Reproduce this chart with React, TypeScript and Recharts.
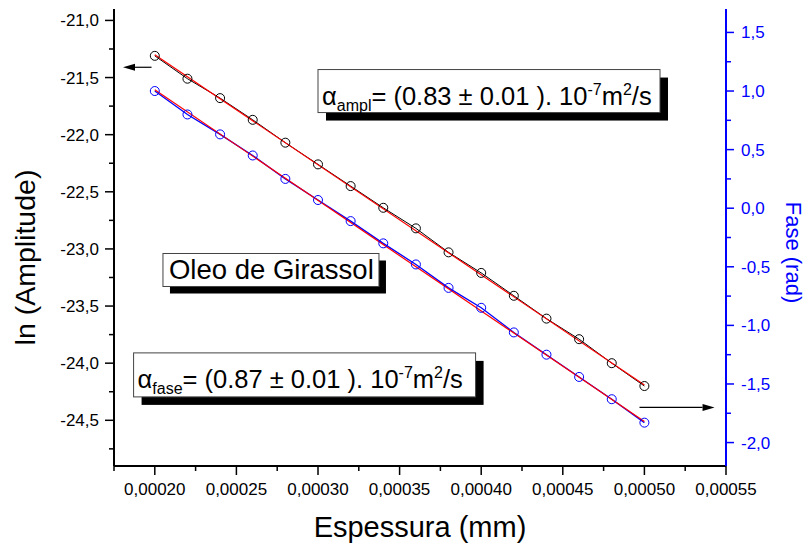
import React from 'react';
import { ComposedChart, Line, XAxis, YAxis, ReferenceDot, ReferenceLine } from 'recharts';

// ---- data ----
const thickness = [0.0002, 0.00022, 0.00024, 0.00026, 0.00028, 0.0003, 0.00032, 0.00034, 0.00036, 0.00038, 0.0004, 0.00042, 0.00044, 0.00046, 0.00048, 0.0005];
const lnAmplitude = [-21.31, -21.51, -21.68, -21.87, -22.07, -22.26, -22.45, -22.64, -22.82, -23.03, -23.21, -23.41, -23.61, -23.79, -24.0, -24.2];
const phaseRad = [1.0, 0.8, 0.63, 0.45, 0.25, 0.07, -0.11, -0.3, -0.48, -0.68, -0.85, -1.06, -1.25, -1.44, -1.63, -1.83];

const fitX = [0.0002, 0.0005];
const ampFitY = [-21.3, -24.19];
const phaseFitY = [1.01, -1.82];

const xMajorTicks = [0.0002, 0.00025, 0.0003, 0.00035, 0.0004, 0.00045, 0.0005, 0.00055];
const xMinorTicks = [0.000175, 0.000225, 0.000275, 0.000325, 0.000375, 0.000425, 0.000475, 0.000525];
const ampMajorTicks = [-21.0, -21.5, -22.0, -22.5, -23.0, -23.5, -24.0, -24.5];
const ampMinorTicks = [-21.25, -21.75, -22.25, -22.75, -23.25, -23.75, -24.25, -24.75];
const phaseMajorTicks = [1.5, 1.0, 0.5, 0.0, -0.5, -1.0, -1.5, -2.0];
const phaseMinorTicks = [1.25, 0.75, 0.25, -0.25, -0.75, -1.25, -1.75];

const xDomain = [0.000175, 0.00055];
const ampDomain = [-24.9, -20.9];
const phaseDomain = [-2.2, 1.7];

const xTitle = 'Espessura (mm)';
const ampTitle = 'ln (Amplitude)';
const phaseTitle = 'Fase (rad)';
const sampleName = 'Oleo de Girassol';
const amplText = { sym: 'α', sub: 'ampl', main: '= (0.83 ± 0.01 ). 10', exp: '-7', unit: 'm', unitExp: '2', tail: '/s' };
const faseText = { sym: 'α', sub: 'fase', main: '= (0.87 ± 0.01 ). 10', exp: '-7', unit: 'm', unitExp: '2', tail: '/s' };

// annotation anchors (data coordinates)
const amplBoxAt = { x: 0.0003, y: -21.43 };
const oleoBoxAt = { x: 0.000205, y: -23.04 };
const faseBoxAt = { x: 0.000187, y: -23.91 };
const leftArrow = [{ x: 0.000198, y: -21.41 }, { x: 0.0001805, y: -21.41 }];
const rightArrow = [{ x: 0.000497, y: -1.7 }, { x: 0.000543, y: -1.7 }];

// ---- derived tables ----
const ampData = thickness.map((x, i) => ({ x, y: lnAmplitude[i] }));
const phaseData = thickness.map((x, i) => ({ x, y: phaseRad[i] }));
const ampFit = fitX.map((x, i) => ({ x, y: ampFitY[i] }));
const phaseFit = fitX.map((x, i) => ({ x, y: phaseFitY[i] }));
const sortNum = (a: number[]) => [...a].sort((p, q) => p - q);
const xAll = sortNum([...xMajorTicks, ...xMinorTicks]);
const ampAll = sortNum([...ampMajorTicks, ...ampMinorTicks]);
const phaseAll = sortNum([...phaseMajorTicks, ...phaseMinorTicks]);

const FONT = '"Liberation Sans", Arial, Helvetica, sans-serif';
const BLUE = '#0000ff';
const RED = '#ff0000';

const isIn = (v: number, arr: number[]) => arr.some((a) => Math.abs(a - v) < 1e-9);
const fmtX = (v: number) => v.toFixed(5).replace('.', ',');
const fmtY = (v: number) => (Math.abs(v) < 1e-12 ? 0 : v).toFixed(1).replace('.', ',');

function BottomTick(props: any) {
  const { x, y, payload } = props;
  const major = isIn(payload.value, xMajorTicks);
  return (
    <g>
      <line x1={x} x2={x} y1={y} y2={y + (major ? 9 : 5)} stroke="#000" strokeWidth={1.5} />
      {major && (
        <text x={x} y={y + 29} textAnchor="middle" fontSize={17} fontFamily={FONT} fill="#000">
          {fmtX(payload.value)}
        </text>
      )}
    </g>
  );
}

function TopTick(props: any) {
  const { x, y, payload } = props;
  const major = isIn(payload.value, xMajorTicks);
  return <line x1={x} x2={x} y1={y} y2={y + (major ? 7 : 4)} stroke="#000" strokeWidth={1.5} />;
}

function LeftTick(props: any) {
  const { x, y, payload } = props;
  const major = isIn(payload.value, ampMajorTicks);
  return (
    <g>
      <line x1={x - (major ? 9 : 5)} x2={x} y1={y} y2={y} stroke="#000" strokeWidth={1.5} />
      {major && (
        <text x={x - 15} y={y + 6} textAnchor="end" fontSize={17} fontFamily={FONT} fill="#000">
          {fmtY(payload.value)}
        </text>
      )}
    </g>
  );
}

function RightTick(props: any) {
  const { x, y, payload } = props;
  const major = isIn(payload.value, phaseMajorTicks);
  return (
    <g>
      <line x1={x} x2={x + (major ? 8 : 5)} y1={y} y2={y} stroke={BLUE} strokeWidth={1.5} />
      {major && (
        <text x={x + 15} y={y + 6} textAnchor="start" fontSize={17} fontFamily={FONT} fill={BLUE}>
          {fmtY(payload.value)}
        </text>
      )}
    </g>
  );
}

const XTitle = (p: any) => {
  const vb = p.viewBox || {};
  return (
    <text x={vb.x + vb.width / 2} y={vb.y + 71} textAnchor="middle" fontSize={29} fontFamily={FONT} fill="#000">
      {xTitle}
    </text>
  );
};
const LeftTitle = (p: any) => {
  const vb = p.viewBox || {};
  return (
    <text transform={`translate(${vb.x + 35},${vb.y + vb.height / 2 + 20}) rotate(-90)`} textAnchor="middle" fontSize={28.5} fontFamily={FONT} fill="#000">
      {ampTitle}
    </text>
  );
};
const RightTitle = (p: any) => {
  const vb = p.viewBox || {};
  return (
    <text transform={`translate(${vb.x + 60},${vb.y + vb.height / 2 + 15}) rotate(90)`} textAnchor="middle" fontSize={22} fontFamily={FONT} fill={BLUE}>
      {phaseTitle}
    </text>
  );
};

const makeArrow = (p: any) => {
  const x1 = p.x1, y1 = p.y1, x2 = p.x2, y2 = p.y2;
  const dx = x2 - x1, dy = y2 - y1;
  const len = Math.sqrt(dx * dx + dy * dy) || 1;
  const ux = dx / len, uy = dy / len;
  const hl = 12, hw = 3.5;
  const bx = x2 - ux * hl, by = y2 - uy * hl;
  const pts = `${x2},${y2} ${bx - uy * hw},${by + ux * hw} ${bx + uy * hw},${by - ux * hw}`;
  return (
    <g>
      <line x1={x1} y1={y1} x2={bx} y2={by} stroke="#000" strokeWidth={1.2} />
      <polygon points={pts} fill="#000" />
    </g>
  );
};

const formulaBox = (t: typeof amplText, w: number, h: number) => (p: any) => {
  const x = p.cx, y = p.cy;
  return (
    <g>
      <rect x={x + 8} y={y + 8} width={w} height={h} fill="#000" />
      <rect x={x} y={y} width={w} height={h} fill="#fff" stroke="#444" strokeWidth={1} />
      <text x={x + 4} y={y + 35} fontSize={25.5} fontFamily={FONT} fill="#000">
        <tspan>{t.sym}</tspan>
        <tspan fontSize={16} dy={6}>{t.sub}</tspan>
        <tspan dy={-6}>{t.main}</tspan>
        <tspan fontSize={16} dy={-10}>{t.exp}</tspan>
        <tspan dy={10}>{t.unit}</tspan>
        <tspan fontSize={16} dy={-10}>{t.unitExp}</tspan>
        <tspan dy={10}>{t.tail}</tspan>
      </text>
    </g>
  );
};

const nameBox = (p: any) => {
  const x = p.cx, y = p.cy, w = 216, h = 33;
  return (
    <g>
      <rect x={x + 7} y={y + 7} width={w} height={h} fill="#000" />
      <rect x={x} y={y} width={w} height={h} fill="#fff" stroke="#444" strokeWidth={1} />
      <text x={x + 6} y={y + 26} fontSize={27.5} fontFamily={FONT} fill="#000">
        {sampleName}
      </text>
    </g>
  );
};

export default function App() {
  return (
    <div style={{ position: 'absolute', left: 0, top: 0, width: 805, height: 544, background: '#fff' }}>
      <ComposedChart width={805} height={544} margin={{ top: 9, right: 0, bottom: 0, left: 0 }}>
        <XAxis
          xAxisId="b"
          dataKey="x"
          type="number"
          domain={xDomain}
          ticks={xAll}
          interval={0}
          height={78}
          tickSize={0}
          tickMargin={0}
          tickLine={false}
          tick={BottomTick}
          axisLine={{ stroke: '#000', strokeWidth: 2 }}
          allowDataOverflow
          label={{ content: XTitle }}
        />
        <XAxis
          xAxisId="t"
          orientation="top"
          dataKey="x"
          type="number"
          domain={xDomain}
          ticks={xAll}
          interval={0}
          height={0}
          tickSize={0}
          tickMargin={0}
          tickLine={false}
          tick={TopTick}
          axisLine={{ stroke: '#000', strokeWidth: 2 }}
          allowDataOverflow
        />
        <YAxis
          yAxisId="amp"
          orientation="left"
          type="number"
          domain={ampDomain}
          ticks={ampAll}
          interval={0}
          width={114}
          tickSize={0}
          tickMargin={0}
          tickLine={false}
          tick={LeftTick}
          axisLine={{ stroke: '#000', strokeWidth: 2 }}
          allowDataOverflow
          label={{ content: LeftTitle }}
        />
        <YAxis
          yAxisId="ph"
          orientation="right"
          type="number"
          domain={phaseDomain}
          ticks={phaseAll}
          interval={0}
          width={79}
          tickSize={0}
          tickMargin={0}
          tickLine={false}
          tick={RightTick}
          axisLine={{ stroke: BLUE, strokeWidth: 2 }}
          allowDataOverflow
          label={{ content: RightTitle }}
        />

        <Line
          xAxisId="b"
          yAxisId="amp"
          data={ampData}
          dataKey="y"
          type="linear"
          stroke="#000"
          strokeWidth={1}
          dot={{ r: 4.5, stroke: '#000', strokeWidth: 1, fill: 'none' }}
          isAnimationActive={false}
        />
        <Line
          xAxisId="b"
          yAxisId="ph"
          data={phaseData}
          dataKey="y"
          type="linear"
          stroke={BLUE}
          strokeWidth={1.3}
          dot={{ r: 4.5, stroke: BLUE, strokeWidth: 1, fill: 'none' }}
          isAnimationActive={false}
        />
        <Line xAxisId="b" yAxisId="amp" data={ampFit} dataKey="y" type="linear" stroke={RED} strokeWidth={1.2} dot={false} isAnimationActive={false} />
        <Line xAxisId="b" yAxisId="ph" data={phaseFit} dataKey="y" type="linear" stroke={RED} strokeWidth={1.2} dot={false} isAnimationActive={false} />

        <ReferenceLine xAxisId="b" yAxisId="amp" segment={leftArrow} shape={makeArrow} ifOverflow="visible" />
        <ReferenceLine xAxisId="b" yAxisId="ph" segment={rightArrow} shape={makeArrow} ifOverflow="visible" />

        <ReferenceDot xAxisId="b" yAxisId="amp" x={amplBoxAt.x} y={amplBoxAt.y} shape={formulaBox(amplText, 342, 43)} ifOverflow="visible" />
        <ReferenceDot xAxisId="b" yAxisId="amp" x={oleoBoxAt.x} y={oleoBoxAt.y} shape={nameBox} ifOverflow="visible" />
        <ReferenceDot xAxisId="b" yAxisId="amp" x={faseBoxAt.x} y={faseBoxAt.y} shape={formulaBox(faseText, 342, 44)} ifOverflow="visible" />
      </ComposedChart>
    </div>
  );
}
